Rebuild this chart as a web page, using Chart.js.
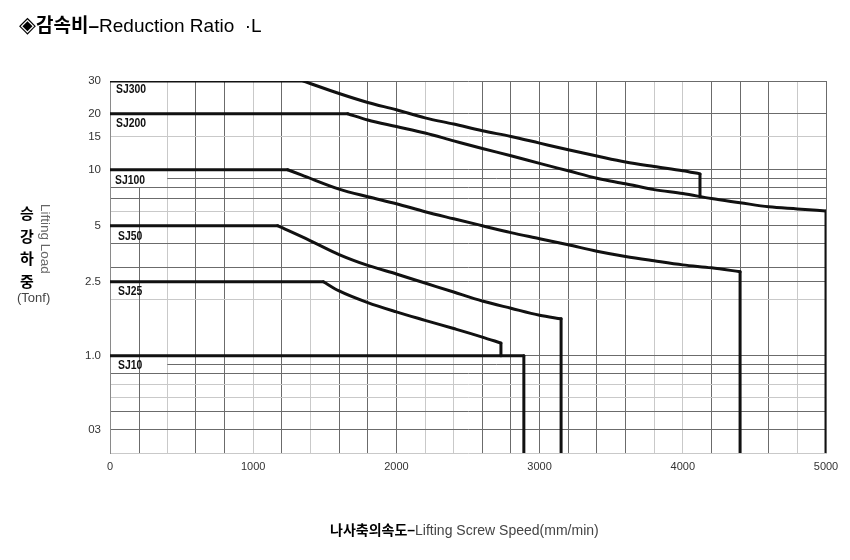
<!DOCTYPE html>
<html>
<head>
<meta charset="utf-8">
<script src="https://cdn.jsdelivr.net/npm/chart.js@4.4.0/dist/chart.umd.min.js"></script>
<style>
  html, body { margin: 0; padding: 0; background: #fff; }
  #wrap { position: relative; width: 850px; height: 560px; font-family: "Liberation Sans", Arial, "Noto Sans CJK KR", sans-serif; }
  #chart { position: absolute; left: 0; top: 0; }
  .txt { position: absolute; white-space: nowrap; color: #000; }
  .ko { font-family: "Noto Sans CJK KR", sans-serif; font-weight: 700; }
  #title { left: 19px; top: 11px; font-size: 19px; line-height: 26px; }
  #title .mk { font-size: 22px; }
  #xTitle { left: 330px; top: 519px; font-size: 14px; line-height: 20px; }
  #xTitle .en { color: #444; }
  #yKo { left: 18px; top: 202px; font-size: 15px; line-height: 22.5px; width: 18px; text-align: center; }
  #yEn { left: 38px; top: 204px; font-size: 13.5px; line-height: 14px; color: #666; transform-origin: 0 0; transform: translate(14px, 0) rotate(90deg); }
  #yUnit { left: 17px; top: 289px; font-size: 13px; line-height: 18px; color: #444; }
</style>
</head>
<body>
<div id="wrap">
  <canvas id="chart" width="850" height="560"></canvas>
  <div id="title" class="txt"><span class="mk">◈</span><span class="ko">감속비</span><b>–</b>Reduction Ratio &nbsp;·L</div>
  <div id="yKo" class="txt ko">승<br>강<br>하<br>중</div>
  <div id="yEn" class="txt">Lifting Load</div>
  <div id="yUnit" class="txt">(Tonf)</div>
  <div id="xTitle" class="txt"><span class="ko">나사축의속도</span><b>–</b><span class="en">Lifting Screw Speed(mm/min)</span></div>
</div>
<script>
  "use strict";

  // x axis: speed in mm/min, gridline every 200, labels every 1000
  const X_MIN = 0, X_MAX = 5000, X_STEP = 200;
  const xLabelValues = [0, 1000, 2000, 3000, 4000, 5000];
  const xLightLines = [400, 1000, 1400, 2200, 2400, 3800, 4000, 4800];

  // y axis: load in tonf (log), bottom fitted to the printed grid
  const Y_MIN = 0.308, Y_MAX = 30;
  const yGridValues = [30, 20, 15, 10, 9, 8, 7, 6, 5, 4, 3, 2.5, 2, 1, 0.9, 0.8, 0.7, 0.6, 0.5, 0.4];
  const yLabelValues = [30, 20, 15, 10, 5, 2.5, 1, 0.4];
  const yLabelTexts = ["30", "20", "15", "10", "5", "2.5", "1.0", "03"];
  const yLightLines = [15, 6, 2, 0.7, 0.6];

  // series: flat rating, falling curve, then a drop at the max speed
  const seriesNames = ["SJ300", "SJ200", "SJ100", "SJ50", "SJ25", "SJ10"];

  const sj300Speed = [0, 1350, 1600, 1800, 2000, 2200, 2400, 2600, 2800, 3000, 3200, 3400, 3600, 3800, 4000, 4120, 4120];
  const sj300Load  = [30, 30, 25.7, 23.0, 21.0, 19.0, 17.6, 16.2, 15.1, 13.9, 12.8, 11.85, 11.0, 10.4, 9.87, 9.5, 7.16];

  const sj200Speed = [0, 1660, 1800, 2000, 2200, 2400, 2600, 2800, 3000, 3200, 3400, 3600, 3800, 4000, 4200, 4400, 4600, 4800, 5000, 5000];
  const sj200Load  = [20, 20, 18.5, 17.07, 15.76, 14.3, 13.0, 11.9, 10.82, 9.87, 9.0, 8.41, 7.82, 7.45, 7.0, 6.65, 6.32, 6.16, 6.0, 0.3];

  const sj100Speed = [0, 1240, 1340, 1600, 1800, 2000, 2200, 2400, 2600, 2800, 3000, 3200, 3400, 3600, 3800, 4000, 4200, 4400, 4400];
  const sj100Load  = [10, 10, 9.36, 7.87, 7.16, 6.57, 5.95, 5.45, 5.0, 4.59, 4.26, 3.95, 3.65, 3.42, 3.24, 3.08, 2.97, 2.83, 0.3];

  const sj50Speed = [0, 1170, 1400, 1600, 1800, 2000, 2200, 2400, 2600, 2800, 3000, 3150, 3150];
  const sj50Load  = [5, 5, 4.15, 3.5, 3.06, 2.75, 2.46, 2.2, 1.97, 1.8, 1.65, 1.58, 0.3];

  const sj25Speed = [0, 1490, 1600, 1800, 2000, 2200, 2400, 2600, 2730, 2730];
  const sj25Load  = [2.5, 2.5, 2.23, 1.93, 1.72, 1.55, 1.40, 1.26, 1.17, 1.0];

  const sj10Speed = [0, 2890, 2890];
  const sj10Load  = [1, 1, 0.3];

  const speeds = [sj300Speed, sj200Speed, sj100Speed, sj50Speed, sj25Speed, sj10Speed];
  const loads  = [sj300Load, sj200Load, sj100Load, sj50Load, sj25Load, sj10Load];

  const DARK = "#6b6b6b", LIGHT = "#c9c9c9", NONE = "rgba(0,0,0,0)";

  // label offsets (px) from the start of each flat line
  const labelDx = [6, 6, 5, 8, 8, 8];
  const labelDy = [8.5, 9.5, 10.5, 11, 10, 10];

  // gridlines that only run part way in the original
  const partialRows = [9, 0.9];
  const partialRowFrom = 400;
  const partialCol = 200;
  const partialColFrom = 8;

  const crisp = (v) => Math.round(v) + 0.5;

  const extras = {
    id: "extras",
    beforeDatasetsDraw(chart) {
      const { ctx, chartArea: a, scales: { x, y } } = chart;
      ctx.save();
      ctx.strokeStyle = DARK;
      ctx.lineWidth = 1;
      ctx.beginPath();
      partialRows.forEach(v => {
        const py = crisp(y.getPixelForValue(v));
        ctx.moveTo(x.getPixelForValue(partialRowFrom), py);
        ctx.lineTo(a.right, py);
      });
      const px = crisp(x.getPixelForValue(partialCol));
      ctx.moveTo(px, y.getPixelForValue(partialColFrom));
      ctx.lineTo(px, a.bottom);
      ctx.stroke();
      ctx.restore();
    },
    afterDatasetsDraw(chart) {
      const { ctx, scales: { x, y } } = chart;
      ctx.save();
      ctx.fillStyle = "#111";
      ctx.font = 'bold 13px "Liberation Sans", Arial, sans-serif';
      ctx.textBaseline = "middle";
      seriesNames.forEach((name, i) => {
        const px = x.getPixelForValue(speeds[i][0]) + labelDx[i];
        const py = y.getPixelForValue(loads[i][0]) + labelDy[i];
        ctx.save();
        ctx.translate(px, py);
        ctx.scale(0.8, 1);
        ctx.fillText(name, 0, 0);
        ctx.restore();
      });
      ctx.restore();
    }
  };

  // each series drawn as plateau (straight), curve (smooth) and drop (straight)
  function pts(i, from, to) {
    const out = [];
    for (let k = from; k <= to; k++) out.push({ x: speeds[i][k], y: loads[i][k] });
    return out;
  }
  function lineSet(name, data, smooth) {
    return {
      label: name, data, showLine: true,
      borderColor: "#111", borderWidth: 3,
      borderCapStyle: "round", borderJoinStyle: "round",
      pointRadius: 0, fill: false,
      cubicInterpolationMode: smooth ? "monotone" : "default",
      tension: smooth ? 0.4 : 0
    };
  }
  const datasets = [];
  seriesNames.forEach((name, i) => {
    const n = speeds[i].length;
    datasets.push(lineSet(name, pts(i, 0, 1), false));
    if (n > 3) datasets.push(lineSet(name, pts(i, 1, n - 2), true));
    datasets.push(lineSet(name, pts(i, n - 2, n - 1), false));
  });

  new Chart(document.getElementById("chart"), {
    type: "scatter",
    data: { datasets },
    options: {
      responsive: false,
      animation: false,
      events: [],
      layout: { padding: { left: 0, right: 24, top: 81, bottom: 0 } },
      plugins: { legend: { display: false }, tooltip: { enabled: false } },
      scales: {
        x: {
          type: "linear",
          min: X_MIN, max: X_MAX,
          ticks: {
            stepSize: X_STEP, autoSkip: false, maxRotation: 0, padding: 7,
            color: "#333", font: { family: '"Liberation Sans", Arial, sans-serif', size: 11 },
            callback: (v) => xLabelValues.includes(v) ? String(v) : ""
          },
          grid: {
            drawTicks: false,
            color: (c) => {
              const v = c.tick ? c.tick.value : null;
              if (v === X_MIN) return "#8a8a8a";
              if (v === partialCol) return NONE;
              return xLightLines.includes(v) ? LIGHT : DARK;
            }
          },
          border: { color: LIGHT },
          afterFit(s) { s.height = 107; }
        },
        y: {
          type: "logarithmic",
          min: Y_MIN, max: Y_MAX,
          afterBuildTicks(s) { s.ticks = yGridValues.map(v => ({ value: v })); },
          ticks: {
            autoSkip: false, padding: 9,
            color: "#333", font: { family: '"Liberation Sans", Arial, sans-serif', size: 11.5 },
            callback: (v) => {
              const i = yLabelValues.indexOf(v);
              return i < 0 ? "" : yLabelTexts[i];
            }
          },
          grid: {
            drawTicks: false,
            color: (c) => {
              const v = c.tick ? c.tick.value : null;
              if (partialRows.includes(v)) return NONE;
              return yLightLines.includes(v) ? LIGHT : DARK;
            }
          },
          border: { color: "#8a8a8a" },
          afterFit(s) { s.width = 110; }
        }
      }
    },
    plugins: [extras]
  });
</script>
</body>
</html>
